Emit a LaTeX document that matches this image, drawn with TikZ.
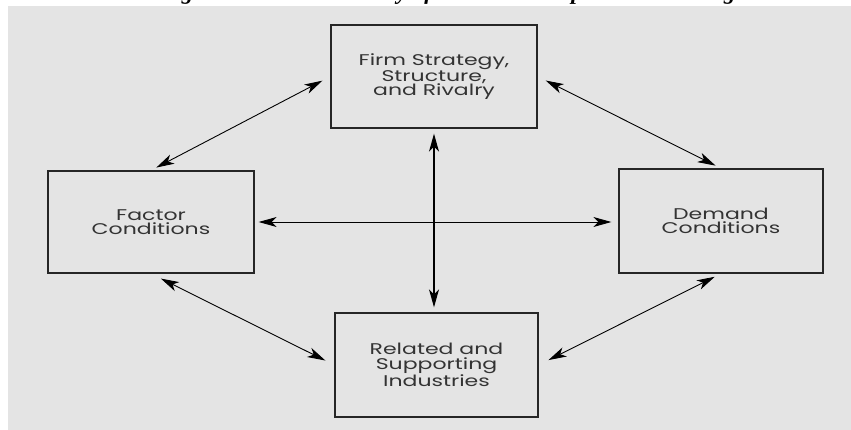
\documentclass[tikz,border=0pt]{standalone}
\usepackage{fontspec}
\setmainfont{Liberation Serif}
\newfontfamily\boxfont[FakeStretch=1.42]{Poppins}
\usetikzlibrary{arrows.meta}
\definecolor{bgc}{HTML}{E4E4E4}
\definecolor{txtc}{HTML}{333333}
\tikzset{
  box/.style={draw=black!85, line width=1.3pt, fill=bgc, inner sep=0pt, align=center,
    font=\boxfont\fontsize{15.5}{14.5}\selectfont, text=txtc},
  link/.style={line width=0.9pt, {Stealth[length=18pt,width=10pt,inset=5pt]}-{Stealth[length=18pt,width=10pt,inset=5pt]}},
  vlink/.style={link, line width=1.5pt}
}
\begin{document}
\begin{tikzpicture}[x=1pt,y=-1pt]
\useasboundingbox (0,0) rectangle (851,430);
\fill[bgc] (8,6) rectangle (851,430);
\begin{scope}
\clip (0,0) rectangle (851,6);
\node[anchor=base west, inner sep=0pt, font=\fontsize{23}{23}\selectfont\bfseries\itshape] (title) at (160,-0.5) {Figure 1: Porter's Theory of National Competitive Advantage};
\end{scope}
\node[box, minimum width=206pt, minimum height=103pt] (firm) at (434,76.5) {Firm Strategy,\\Structure,\\and Rivalry};
\node[box, minimum width=206pt, minimum height=102pt] (fac) at (151,222) {Factor\\Conditions};
\node[box, minimum width=204pt, minimum height=104pt] (dem) at (721,221) {Demand\\Conditions};
\node[box, minimum width=203pt, minimum height=104pt] (rel) at (436.5,365) {Related and\\Supporting\\Industries};
\draw[link, shorten <=6pt, shorten >=9pt] (fac.north) -- (firm.west);
\draw[link, shorten <=9pt, shorten >=6pt] (firm.east) -- (dem.north);
\draw[link, shorten <=11pt, shorten >=10pt] (fac.south) -- (rel.west);
\draw[link, shorten <=7pt, shorten >=11pt] (dem.south) -- (rel.east);
\draw[link, shorten <=4pt, shorten >=7pt] (fac.east) -- (fac.east -| dem.west);
\draw[vlink, shorten <=5pt, shorten >=5pt] (firm.south) -- (firm.south |- rel.north);
\end{tikzpicture}
\end{document}
